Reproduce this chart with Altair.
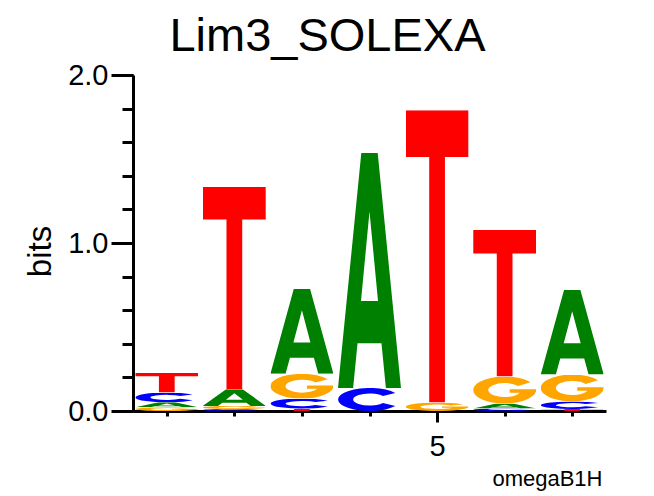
import base64
import altair as alt
import pandas as pd

positions = [1, 2, 3, 4, 5, 6, 7]
heights_A = [0.030, 0.100, 0.505, 1.400, 0.000, 0.030, 0.503]
heights_C = [0.058, 0.012, 0.060, 0.137, 0.000, 0.015, 0.045]
heights_G = [0.022, 0.018, 0.147, 0.000, 0.050, 0.160, 0.160]
heights_T = [0.116, 1.203, 0.014, 0.000, 1.740, 0.872, 0.012]

y_major = [0.0, 1.0, 2.0]
y_minor = [0.0, 0.2, 0.4, 0.6, 0.8, 1.0, 1.2, 1.4, 1.6, 1.8, 2.0]
x_labelled = [5]

title_text = "Lim3_SOLEXA"
y_title = "bits"
x_title = "omegaB1H"

# ---- styles ----
colors = {"A": "#008000", "C": "#0000ff", "G": "#ffa500", "T": "#ff0000"}
glyphs = {
    "T": "M0,0 H100 V16 H62.5 V100 H37.5 V16 H0 Z",
    "A": "M0,100 L37,0 L63,0 L100,100 L76,100 L69,81 L31,81 L24,100 Z M36.5,63 L50,25 L63.5,63 Z",
    "C": "M91,21.3 A50,50 0 1,0 91,78.7 L71.3,64.9 A26,26 0 1,1 71.3,35.1 Z",
    "G": "M91,21.3 A50,50 0 1,0 100,50 L100,47 L58,47 L58,60 L74,60 A26,26 0 1,1 71.3,35.1 Z",
}
half_width = 0.466


def glyph_uri(letter):
    svg = (
        '<svg xmlns="http://www.w3.org/2000/svg" width="100" height="100" '
        'viewBox="0 0 100 100" preserveAspectRatio="none">'
        f'<path d="{glyphs[letter]}" fill="{colors[letter]}" fill-rule="evenodd"/></svg>'
    )
    return "data:image/svg+xml;base64," + base64.b64encode(svg.encode()).decode()


series = {"A": heights_A, "C": heights_C, "G": heights_G, "T": heights_T}
rows = []
for i, p in enumerate(positions):
    stack = sorted((series[L][i], L) for L in series)
    base = 0.0
    for h, L in stack:
        if h <= 0:
            continue
        rows.append(dict(pos=p, letter=L, x0=p - half_width, x1=p + half_width,
                         y0=base, y1=base + h, url=glyph_uri(L)))
        base += h
df = pd.DataFrame(rows)

FONT = "Liberation Sans"
xscale = alt.Scale(domain=[0.5, 7.5], nice=False, zero=False)
yscale = alt.Scale(domain=[0, 2], nice=False, zero=True)

letters = alt.Chart(df).mark_image(aspect=False).encode(
    x=alt.X("x0:Q", scale=xscale,
            axis=alt.Axis(orient="bottom", values=positions, tickSize=5, tickWidth=3,
                          labels=False, title=None, domainWidth=3, domainColor="black",
                          tickColor="black", grid=False)),
    x2="x1:Q",
    y=alt.Y("y0:Q", scale=yscale,
            axis=alt.Axis(orient="left", values=y_minor, tickSize=11, tickWidth=3,
                          labels=False, title=None, domainWidth=3, domainColor="black",
                          tickColor="black", grid=False)),
    y2="y1:Q",
    url="url:N",
)

axes_major = alt.Chart(df).mark_point(opacity=0).encode(
    x=alt.X("pos:Q", scale=xscale,
            axis=alt.Axis(orient="bottom", values=x_labelled, tickSize=11, tickWidth=3,
                          domain=False, tickColor="black", grid=False, format="d",
                          labelFont=FONT, labelFontSize=29, labelColor="black",
                          labelPadding=10,
                          title=x_title, titleFont=FONT, titleFontSize=22,
                          titleFontWeight="normal", titleColor="black",
                          titleX=469, titleY=74, titleAlign="right",
                          titleBaseline="alphabetic")),
    y=alt.Y("y1:Q", scale=yscale,
            axis=alt.Axis(orient="left", values=y_major, tickSize=22, tickWidth=3,
                          domain=False, tickColor="black", grid=False, format=".1f",
                          labelFont=FONT, labelFontSize=29, labelColor="black",
                          labelPadding=3,
                          title=y_title, titleFont=FONT, titleFontSize=33,
                          titleFontWeight="normal", titleColor="black",
                          titleAngle=-90, titleX=-83, titleY=176,
                          titleAlign="center", titleBaseline="alphabetic")),
)

chart = (
    alt.layer(letters, axes_major)
    .resolve_axis(x="independent", y="independent")
    .properties(
        width=473,
        height=336,
        autosize="none",
        padding={"left": 125, "top": 67, "right": 40, "bottom": 80},
        title=alt.TitleParams(title_text, font=FONT, fontSize=47, fontWeight="normal",
                              color="black", anchor="middle", dx=-42, offset=0),
        background="white",
    )
    .configure_view(stroke=None)
)

chart.save("out.html", embed_options={"renderer": "svg", "actions": False})
